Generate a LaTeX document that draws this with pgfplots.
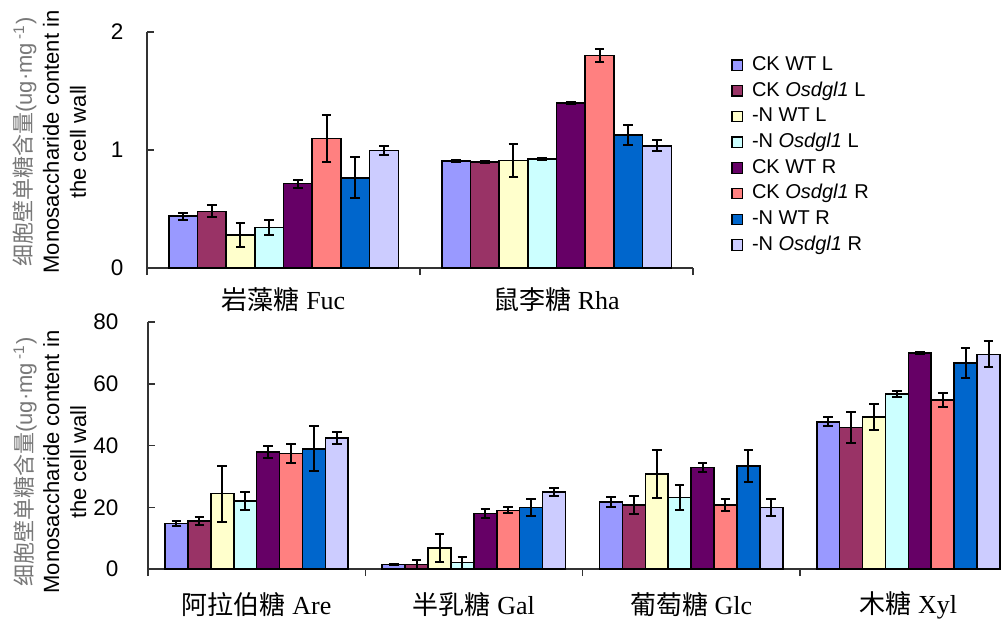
\documentclass[border=0pt]{standalone}
\usepackage{pgfplots}
\pgfplotsset{compat=1.18}
\usepackage{pgfplotstable}
\usepackage{fontspec}
\setmainfont{Liberation Serif}
\setsansfont{Liberation Sans}
\newfontfamily\cjk{Noto Sans CJK SC}

\definecolor{c1}{HTML}{9999FF}
\definecolor{c2}{HTML}{993366}
\definecolor{c3}{HTML}{FFFFCC}
\definecolor{c4}{HTML}{CCFFFF}
\definecolor{c5}{HTML}{660066}
\definecolor{c6}{HTML}{FF8080}
\definecolor{c7}{HTML}{0066CC}
\definecolor{c8}{HTML}{CCCCFF}
\definecolor{labgray}{RGB}{120,120,120}

% top chart: Fuc, Rha
\pgfplotstableread{
x v1 e1 v2 e2 v3 e3 v4 e4 v5 e5 v6 e6 v7 e7 v8 e8
0 0.44 0.03 0.48 0.05 0.28 0.10 0.345 0.065 0.715 0.035 1.096 0.20 0.765 0.175 0.997 0.04
1 0.907 0.012 0.898 0.012 0.912 0.137 0.924 0.010 1.398 0.006 1.80 0.054 1.127 0.083 1.036 0.048
}\topdata

% bottom chart: Are, Gal, Glc, Xyl
\pgfplotstableread{
x v1 e1 v2 e2 v3 e3 v4 e4 v5 e5 v6 e6 v7 e7 v8 e8
0 14.8 0.8 15.5 1.35 24.4 9.1 22.1 2.9 37.9 2.05 37.4 3.0 38.9 7.3 42.4 2.0
1 1.4 0.2 1.4 1.6 6.9 4.5 2.05 1.9 18.0 1.46 19.0 0.97 19.9 2.7 25.0 1.4
2 21.7 1.6 20.8 2.9 30.7 7.7 23.1 4.0 32.9 1.35 20.7 1.95 33.3 5.1 19.9 2.75
3 47.7 1.5 45.9 5.1 49.3 4.3 56.6 0.9 70.0 0.4 54.8 2.2 66.8 4.9 69.5 4.2
}\botdata

\newcommand{\series}[3]{%
  \addplot[fill=#1, draw=black, line width=0.8pt,
    error bars/.cd, y dir=both, y explicit,
    error bar style={line width=1pt, black},
    error mark=-,
    error mark options={rotate=90, black, line width=1pt, mark size=2.4pt}]
    table[x=x, y=v#2, y error=e#2] {#3};}

\pgfplotsset{
  common/.style={
    scale only axis,
    axis lines=left,
    axis line style={-, black!80, line width=0.75pt},
    tick align=inside,
    major tick length=3.5pt,
    tick style={black!80, line width=0.75pt},
    x tick label as interval,
    enlargelimits=false,
    ymin=0,
    ybar=0pt,
    tick label style={font=\sffamily\fontsize{11.25}{13}\selectfont},
    /pgf/number format/assume math mode=true,
    xticklabel style={font=\rmfamily\fontsize{13}{15}\selectfont, anchor=center, yshift=-12.5pt},
    ylabel style={font=\sffamily\fontsize{11}{13.5}\selectfont, align=center, anchor=center},
    ylabel={{\color{labgray}{\cjk 细胞壁单糖含量}(ug·mg\,\textsuperscript{-1})}\\Monosaccharide content in\\the cell wall},
    legend image code/.code={\draw[#1, draw=black, line width=0.6pt] (0pt,-2.6pt) rectangle (5.2pt,2.6pt);},
  }
}

\begin{document}
\begin{tikzpicture}
\begin{axis}[common,
  at={(73.5pt,-134pt)}, anchor=south west,
  width=273pt, height=118pt,
  xmin=-0.5, xmax=1.5, ymax=2,
  bar width=14.35pt,
  xtick={-0.5,0.5,1.5},
  xticklabels={{{\cjk 岩藻糖} Fuc},{{\cjk 鼠李糖} Rha}},
  ytick={0,1,2},
  yticklabel style={xshift=-8.25pt},
  ylabel style={at={(axis description cs:-0.178,0.534)}},
  legend style={at={(axis description cs:1.0696,0.9025)}, anchor=north west,
    draw=none, fill=none, inner sep=0pt, row sep=3.15pt, column sep=4.5pt,
    font=\sffamily\fontsize{10}{12}\selectfont,
    nodes={inner sep=0pt, text height=7.5pt, text depth=2.2pt}},
  legend cell align=left,
]
\series{c1}{1}{\topdata}
\series{c2}{2}{\topdata}
\series{c3}{3}{\topdata}
\series{c4}{4}{\topdata}
\series{c5}{5}{\topdata}
\series{c6}{6}{\topdata}
\series{c7}{7}{\topdata}
\series{c8}{8}{\topdata}
\legend{CK WT L, CK \textit{Osdgl1} L, -N WT L, -N \textit{Osdgl1} L, CK WT R, CK \textit{Osdgl1} R, -N WT R, -N \textit{Osdgl1} R}
\end{axis}

\begin{axis}[common,
  at={(74pt,-284.5pt)}, anchor=south west,
  width=434.5pt, height=123.5pt,
  xmin=-0.5, xmax=3.5, ymax=80,
  bar width=11.45pt,
  xtick={-0.5,0.5,1.5,2.5,3.5},
  xticklabels={{{\cjk 阿拉伯糖} Are},{{\cjk 半乳糖} Gal},{{\cjk 葡萄糖} Glc},{{\cjk 木糖} Xyl}},
  xticklabel style={yshift=-2pt},
  ytick={0,20,40,60,80},
  yticklabel style={xshift=-11.25pt},
  ylabel style={at={(axis description cs:-0.1128,0.433)}},
]
\series{c1}{1}{\botdata}
\series{c2}{2}{\botdata}
\series{c3}{3}{\botdata}
\series{c4}{4}{\botdata}
\series{c5}{5}{\botdata}
\series{c6}{6}{\botdata}
\series{c7}{7}{\botdata}
\series{c8}{8}{\botdata}
\end{axis}
\pgfresetboundingbox
\useasboundingbox (0,0) rectangle (500.5pt,-309pt);
\end{tikzpicture}
\end{document}
